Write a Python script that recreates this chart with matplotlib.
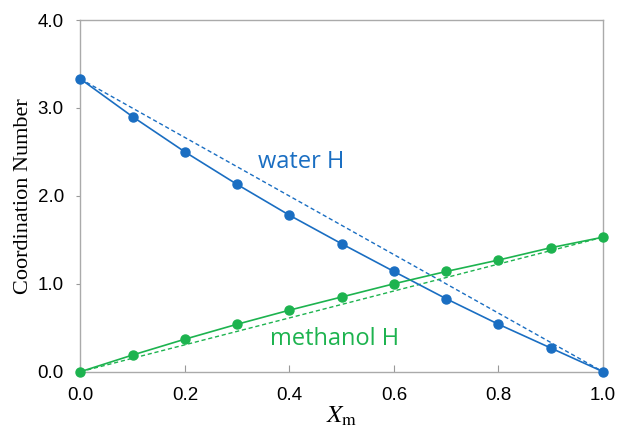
import matplotlib
matplotlib.use('Agg')
import matplotlib.pyplot as plt

# mole fraction of methanol
x_m = [0.0, 0.1, 0.2, 0.3, 0.4, 0.5, 0.6, 0.7, 0.8, 0.9, 1.0]
water_h = [3.33, 2.90, 2.50, 2.13, 1.78, 1.455, 1.14, 0.83, 0.54, 0.27, 0.0]
methanol_h = [0.0, 0.19, 0.37, 0.54, 0.70, 0.85, 1.00, 1.14, 1.27, 1.41, 1.53]

x_ticks = [0.0, 0.2, 0.4, 0.6, 0.8, 1.0]
y_ticks = [0.0, 1.0, 2.0, 3.0, 4.0]

BLUE = '#1a6ec2'
GREEN = '#1db34f'

plt.rcParams['mathtext.fontset'] = 'stix'

fig = plt.figure(figsize=(6.19, 4.33), dpi=100)
ax = fig.add_axes([0.130, 0.1416, 0.844, 0.812])

for y, c in [(water_h, BLUE), (methanol_h, GREEN)]:
    # ideal (linear) mixing between the pure-component end points
    ax.plot([x_m[0], x_m[-1]], [y[0], y[-1]], ls=(0, (3, 2)), lw=1.0, color=c)
    ax.plot(x_m, y, '-o', color=c, lw=1.2, ms=6.5, clip_on=False, zorder=3)

ax.text(0.34, 2.38, 'water H', color=BLUE, fontsize=17,
        family='Open Sans', va='center')
ax.text(0.362, 0.37, 'methanol H', color=GREEN, fontsize=17,
        family='Open Sans', va='center')

ax.set_xlim(0, 1)
ax.set_ylim(0, 4)
ax.set_xticks(x_ticks)
ax.set_yticks(y_ticks)
ax.set_xticklabels([f'{v:.1f}' for v in x_ticks], family='Liberation Sans', fontsize=13.5)
ax.set_yticklabels([f'{v:.1f}' for v in y_ticks], family='Liberation Sans', fontsize=13.5)
ax.tick_params(axis='x', direction='in', length=5, color='#999999', pad=11)
ax.tick_params(axis='y', direction='out', length=3, color='#999999', pad=9)

for s in ax.spines.values():
    s.set_color('#aaaaaa')
    s.set_linewidth(1.0)

ax.set_ylabel('Coordination Number', family='Liberation Serif', fontsize=16, labelpad=3)
ax.set_xlabel(r'$X_{\mathrm{m}}$', fontsize=18, labelpad=0)

fig.savefig('out.png', dpi=100)
